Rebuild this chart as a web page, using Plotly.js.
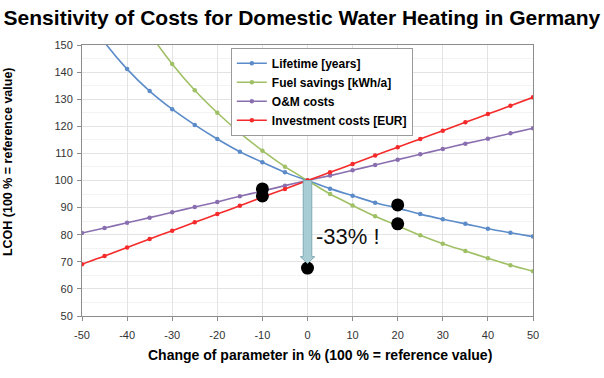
<!DOCTYPE html>
<html>
<head>
<meta charset="utf-8">
<script src="https://cdn.plot.ly/plotly-3.0.1.min.js"></script>
<style>html,body{margin:0;padding:0;background:#fff;}#chart{width:604px;height:378px;}</style>
</head>
<body>
<div id="chart"></div>
<script>
// Data
const changePct = [-50,-45,-40,-35,-30,-25,-20,-15,-10,-5,0,5,10,15,20,25,30,35,40,45,50];
const lifetime  = [163,151,141.1,133.0,126.3,120.5,115.3,110.6,106.7,103.0,100,97.0,94.4,91.8,89.8,87.6,85.7,84.0,82.2,80.7,79.3];
const fuelSavings = [200,182,167,154.3,143.0,133.3,125.0,117.6,111.0,105.1,100,95.0,90.8,86.8,83.3,79.8,76.7,74.0,71.3,68.7,66.5];
const omCosts   = [80.6,82.5,84.4,86.3,88.3,90.2,92.1,94.2,96.1,98.1,100,101.8,103.8,105.7,107.7,109.7,111.6,113.6,115.4,117.4,119.3];
const investment = [69.1,72.1,75.3,78.4,81.5,84.6,87.6,90.7,93.8,96.9,100,103.0,106.1,109.2,112.3,115.3,118.4,121.5,124.5,127.6,130.7];
const seriesNames = ["Lifetime [years]","Fuel savings [kWh/a]","O&M costs","Investment costs [EUR]"];
const highlightX = [-10,-10,20,20,0];
const highlightY = [96.9,94.3,91.0,84.0,67.7];
const arrowX = 0, arrowFrom = 100, arrowTo = 69.4;
const noteText = "-33% !";
const noteX = 9, noteY = 79.3;
const xTicks = [-50,-40,-30,-20,-10,0,10,20,30,40,50];
const yTicks = [50,60,70,80,90,100,110,120,130,140,150];
const titleText = 'Sensitivity of Costs for Domestic Water Heating in Germany';
const xTitleText = 'Change of parameter in % (100 % = reference value)';
const yTitleText = 'LCOH (100 % = reference value)';

const colors = ["#5b8bc9","#a0c066","#8a6fb0","#f52a2a"];
const allSeries = [lifetime, fuelSavings, omCosts, investment];
const FONT = 'Liberation Sans, Arial, sans-serif';

const traces = allSeries.map((ys,i)=>({
  x: changePct, y: ys, name: seriesNames[i], type:'scatter', mode:'lines+markers',
  line:{color:colors[i], width:1.6, shape:'spline', smoothing:0.6},
  marker:{color:colors[i], size:4.5}
}));
traces.push({
  x: highlightX, y: highlightY, type:'scatter', mode:'markers', showlegend:false,
  marker:{color:'#000', size:13}, hoverinfo:'skip', cliponaxis:false
});

// arrow shape built from constants
const sw = 0.95, hw = 1.6, headStart = arrowTo + 2.5;
const arrowPath = `M ${arrowX-sw},${arrowFrom} L ${arrowX+sw},${arrowFrom} L ${arrowX+sw},${headStart} L ${arrowX+hw},${headStart} L ${arrowX},${arrowTo} L ${arrowX-hw},${headStart} L ${arrowX-sw},${headStart} Z`;

const layout = {
  width:604, height:378,
  margin:{l:82, r:71, t:45, b:62},
  paper_bgcolor:'#fff', plot_bgcolor:'#fff',
  title:{text:titleText,
    font:{family:FONT, size:21, color:'#000', weight:'bold'},
    x:0.006, xanchor:'left', yref:'container', y:0.952, yanchor:'middle'},
  xaxis:{range:[-50,50], tickvals:xTicks, ticktext:xTicks.map(String),
    showgrid:true, gridcolor:'#e3e3e3', gridwidth:1, zeroline:false,
    showline:true, linecolor:'#8c8c8c', linewidth:1, mirror:true,
    ticks:'outside', ticklen:4, tickcolor:'#8c8c8c', ticklabelstandoff:5,
    tickfont:{family:FONT, size:11, color:'#333'}},
  yaxis:{range:[50,150], tickvals:yTicks, ticktext:yTicks.map(String),
    showgrid:true, gridcolor:'#e3e3e3', gridwidth:1, zeroline:false,
    minor:{dtick:5, showgrid:true, gridcolor:'#f3f3f3'},
    showline:true, linecolor:'#8c8c8c', linewidth:1, mirror:true,
    ticks:'outside', ticklen:4, tickcolor:'#8c8c8c', ticklabelstandoff:2,
    tickfont:{family:FONT, size:11, color:'#333'}},
  legend:{x:0.33, y:0.99, xanchor:'left', yanchor:'top',
    bgcolor:'#fff', bordercolor:'#9a9a9a', borderwidth:1,
    font:{family:FONT, size:12, color:'#000', weight:'bold'},
    itemwidth:30, tracegroupgap:0, entrywidth:205},
  shapes:[{type:'path', xref:'x', yref:'y', path:arrowPath,
    fillcolor:'#a9cdd4', line:{color:'#7fa9b3', width:1}, layer:'above'}],
  annotations:[
    {x:noteX, y:noteY, xref:'x', yref:'y', text:noteText, showarrow:false,
     font:{family:FONT, size:22, color:'#111'}},
    {x:0.528, y:-0.144, xref:'paper', yref:'paper', text:xTitleText, showarrow:false,
     xanchor:'center', yanchor:'middle',
     font:{family:FONT, size:14, color:'#000', weight:'bold'}},
    {x:-0.165, y:0.57, xref:'paper', yref:'paper', text:yTitleText, showarrow:false,
     textangle:-90, xanchor:'center', yanchor:'middle',
     font:{family:FONT, size:12.5, color:'#000', weight:'bold'}}
  ],
  showlegend:true
};
Plotly.newPlot('chart', traces, layout, {displayModeBar:false, staticPlot:true});
</script>
</body>
</html>
